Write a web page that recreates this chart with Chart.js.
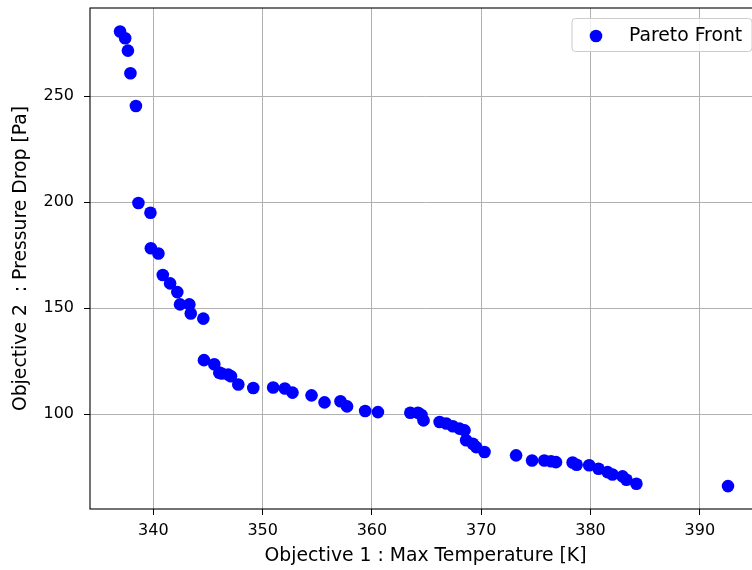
<!DOCTYPE html>
<html>
<head>
<meta charset="utf-8">
<script src="https://cdn.jsdelivr.net/npm/chart.js@4/dist/chart.umd.min.js"></script>
<style>
  html, body { margin: 0; padding: 0; background: #fff; overflow: hidden; }
  #wrap { width: 762px; height: 570px; }
</style>
</head>
<body>
<div id="wrap"><canvas id="c" width="762" height="570"></canvas></div>
<script>
// Objective 1 : Max Temperature [K]
const maxTemperature = [
  336.95, 337.42, 337.67, 337.90, 338.40, 338.63, 339.73, 339.77, 340.46, 340.86,
  341.53, 342.19, 342.44, 343.29, 343.42, 344.57, 344.63, 345.57, 346.03, 346.25,
  346.85, 347.10, 347.77, 349.14, 350.96, 352.03, 352.73, 354.47, 355.66, 357.12,
  357.72, 359.38, 360.55, 363.51, 364.21, 364.53, 364.72, 366.19, 366.80, 367.40,
  368.01, 368.47, 368.62, 369.23, 369.54, 370.30, 373.19, 374.65, 375.77, 376.39,
  376.84, 378.36, 378.73, 379.88, 380.73, 381.56, 382.01, 382.93, 383.29, 384.20,
  392.58
];
// Objective 2 : Pressure Drop [Pa]
const pressureDrop = [
  280.5, 277.3, 271.5, 260.8, 245.4, 199.6, 195.0, 178.3, 175.8, 165.7,
  161.7, 157.6, 151.8, 151.8, 147.5, 145.1, 125.5, 123.6, 119.6, 119.2,
  118.7, 117.9, 114.0, 112.4, 112.6, 112.1, 110.2, 108.9, 105.6, 106.1,
  103.7, 101.5, 101.0, 100.7, 100.7, 99.6, 97.1, 96.3, 95.6, 94.3,
  93.2, 92.4, 87.7, 86.1, 84.5, 82.2, 80.6, 78.2, 78.2, 77.8,
  77.4, 77.2, 76.2, 75.9, 74.3, 72.7, 71.6, 70.7, 69.1, 67.2,
  66.1
];
const xTickValues = [340, 350, 360, 370, 380, 390];
const yTickValues = [100, 150, 200, 250];
const seriesLabel = 'Pareto Front';

const FONT = 'DejaVu Sans';

const framePlugin = {
  id: 'frame',
  afterDraw(chart) {
    const { ctx, chartArea: a } = chart;
    ctx.save();
    ctx.strokeStyle = '#000';
    ctx.lineWidth = 1.1;
    ctx.strokeRect(a.left, a.top, a.right - a.left, a.bottom - a.top);
    // legend
    const bx = 572, by = 18.5, bw = 180, bh = 33, r = 3.5;
    ctx.beginPath();
    ctx.moveTo(bx + r, by);
    ctx.lineTo(bx + bw - r, by);
    ctx.arcTo(bx + bw, by, bx + bw, by + r, r);
    ctx.lineTo(bx + bw, by + bh - r);
    ctx.arcTo(bx + bw, by + bh, bx + bw - r, by + bh, r);
    ctx.lineTo(bx + r, by + bh);
    ctx.arcTo(bx, by + bh, bx, by + bh - r, r);
    ctx.lineTo(bx, by + r);
    ctx.arcTo(bx, by, bx + r, by, r);
    ctx.closePath();
    ctx.fillStyle = 'rgba(255,255,255,0.8)';
    ctx.fill();
    ctx.strokeStyle = '#cccccc';
    ctx.lineWidth = 1;
    ctx.stroke();
    ctx.beginPath();
    ctx.arc(596, 36, 6.3, 0, Math.PI * 2);
    ctx.fillStyle = '#0000ff';
    ctx.fill();
    ctx.fillStyle = '#000';
    ctx.font = '18.8px "' + FONT + '"';
    ctx.textBaseline = 'middle';
    ctx.textAlign = 'left';
    ctx.fillText(seriesLabel, 629, 36);
    ctx.restore();
  }
};

new Chart(document.getElementById('c'), {
  type: 'scatter',
  data: {
    datasets: [{
      label: seriesLabel,
      data: maxTemperature.map((x, i) => ({ x: x, y: pressureDrop[i] })),
      backgroundColor: '#0000ff',
      borderWidth: 0,
      pointRadius: 6.3,
      pointHoverRadius: 6.3
    }]
  },
  options: {
    responsive: false,
    animation: false,
    events: [],
    layout: { autoPadding: false, padding: { top: 8, right: 1, bottom: 0, left: 0 } },
    plugins: { legend: { display: false }, tooltip: { enabled: false } },
    scales: {
      x: {
        type: 'linear',
        position: 'bottom',
        min: 334.2,
        max: 395.6,
        z: 1,
        afterBuildTicks(scale) { scale.ticks = xTickValues.map(v => ({ value: v })); },
        afterFit(scale) { scale.height = 61; scale.paddingLeft = 0; scale.paddingRight = 0; },
        grid: { color: '#b0b0b0', lineWidth: 1, tickColor: '#000', tickLength: 6, drawTicks: true },
        border: { display: false },
        ticks: { color: '#000', padding: 6, font: { family: FONT, size: 16 }, maxRotation: 0, autoSkip: false },
        title: { display: true, text: 'Objective 1 : Max Temperature [K]', color: '#000',
                 font: { family: FONT, size: 18.8 }, padding: { top: 0, bottom: 3 } }
      },
      y: {
        type: 'linear',
        position: 'left',
        min: 55.3,
        max: 291.6,
        z: 1,
        afterBuildTicks(scale) { scale.ticks = yTickValues.map(v => ({ value: v })); },
        afterFit(scale) { scale.width = 90; scale.paddingTop = 0; scale.paddingBottom = 0; },
        grid: { color: '#b0b0b0', lineWidth: 1, tickColor: '#000', tickLength: 6, drawTicks: true },
        border: { display: false },
        ticks: { color: '#000', padding: 10, font: { family: FONT, size: 16 }, autoSkip: false },
        title: { display: true, text: 'Objective 2  : Pressure Drop [Pa]', color: '#000',
                 font: { family: FONT, size: 18.8 }, padding: { top: 10, bottom: 0 } }
      }
    }
  },
  plugins: [framePlugin]
});
</script>
</body>
</html>
